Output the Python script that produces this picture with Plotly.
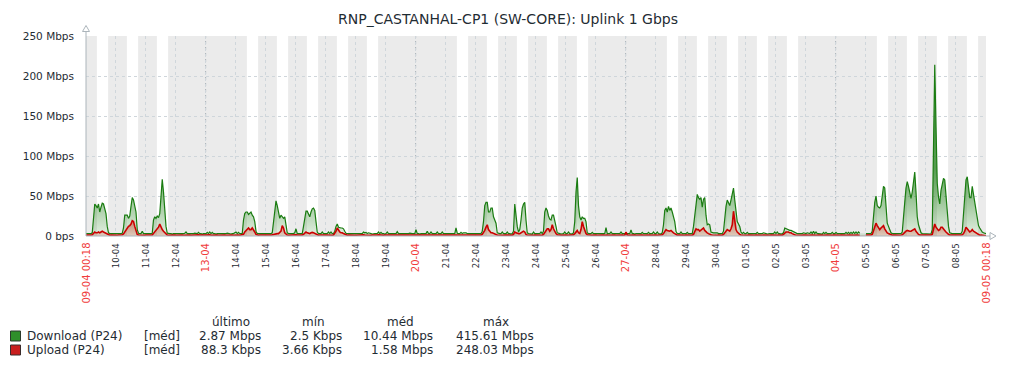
import plotly.graph_objects as go
import pandas as pd

TITLE = "RNP_CASTANHAL-CP1 (SW-CORE): Uplink 1 Gbps"
START = "2025-04-09 00:18"
END = "2025-05-09 00:18"
WORK_START_HOUR = 9
WORK_END_HOUR = 18

# Hourly values (Mbps), one row per day starting 09-04, hour h = day 00:18 + h hours
download_mbps_by_day = [
    [3,3,2.5,3,3,4,22,40,38,35,40,30,36,41,40,32,28,12,4,3,3,3,2.5,3],
    [3,3,2.5,3,3,3.5,10,26,26,26,22,25,37,48,45,38,30,8,3.5,3,3,6,3,3],
    [3,3,3,2.5,3,3.5,20,24,22,25,23,28,45,71,55,30,12,3.5,3,3,3,2.5,3,3],
    [3,2.5,3,3,2.5,3,3,3.5,5,3,3,2.5,3,3,3,3.5,3,3,4.5,3,3,2.5,3,3],
    [3,4.5,3,5,3,4.5,3,3,2.5,3,3,3,3,2.5,3,3,3,3.5,3,3,2.5,3,3,4],
    [5,3,4.5,3,3,3,20,28,30,30,27,28,30,26,24,18,6,3,3,2.5,3,3,3,3],
    [3,3,2.5,3,3,4,20,32,44,38,30,22,26,24,22,24,16,4,3,3,2.5,3,3,4],
    [9,3,3,2.5,3,3,12,25,31,31,26,24,30,34,35,32,18,5,3,3,3,5,3,3],
    [3,3,5,3,5,3,3,6,12,15,11,10,10,10,9,6,3.5,3,3,2.5,3,3,3,3],
    [3,3,2.5,3,3,3,5,4,4.5,3,4,3,3,2.5,3,3,3,3,5,3,4.5,3,3,2.5],
    [3,5,3,3,2.5,3,3,3,3,5.5,3,3,3,2.5,3,3,3,3,3,3.5,3,3,3,3],
    [8,3,3,2.5,3,3,3,3,3,6,3,3,5,3,3,2.5,3,5,3,3,3,5,3,3],
    [3,3,3,3,2.5,3,3,3,10,3.5,3,3,4.5,3,4,4,4,3,3,3,2.5,3,3,3],
    [3,3,2.5,3,3,6,18,38,42,42,30,30,35,35,24,20,16,4,3,3,3,5,3,3],
    [3,5,3,3,2.5,3,6,40,20,12,5,8,20,35,40,42,20,4,3,3,3,2.5,5,3],
    [3,3,3,3,5,3,6,30,35,32,25,21,20,26,26,20,12,4,3,3,2.5,3,3,5],
    [3,3,5,3,3,2.5,4,18,55,73,38,24,20,24,22,22,18,4,3,3,3,4.5,3,3],
    [3,3,3,2.5,3,3,3,3,10.5,3,3,3,5,3,3,3,2.5,3,3,3,5,3,3,3],
    [3,3,3,3,7.5,3,3,2.5,3,3,3,3,3,4.5,3,3,3,3,4.5,3,3,3,5,3],
    [3,5,3,3,2.5,4,14,32,35,30,37,32,35,30,24,18,6,3,3,3,5,3,3,3],
    [3,4.5,3,3,3,3,12,28,42,52,48,46,48,36,46,48,26,14,15,14,5,4,4,4],
    [4,4,3,3,2.5,3,6,26,37,45,42,38,45,53,60,45,26,18,15,12,5,3,4.5,3],
    [3,4.5,3,3,3,2.5,3,3,3,4.5,3,3,3,3,4,3,3,2.5,3,3,3,3,3,5],
    [3,5,3,3,2.5,3,4,10,9,8,8,7,7,6,5,4,3,3,3,3,2.5,3,4,3],
    [3,4,3,3,5,3,6,3,5,3,3,3,3,2.5,4.5,3,4.5,3,3,3,3,4.5,3,3],
    [4.5,3,3,3,2.5,3,3,3,4.5,3,4.5,3,4.5,3,5,3,5,3,5,3.5,None,None,None,None],
    [3,3,2.5,3,3,6,25,42,50,38,36,35,38,48,62,60,37,16,12,8,4,3,3,3],
    [3,3,3,2.5,3,5,20,42,60,68,62,52,47,55,68,80,55,24,14,8,4,3,3,3],
    [3,3,3,3,2.5,8,90,214,137,66,49,40,57,66,72,70,49,28,12,4,3,3,3,3],
    [3,3,2.5,3,3,6,32,50,70,74,60,48,48,62,52,42,32,20,13,10,7,5,4,3],
]
download_last = 2.87

upload_mbps_by_day = [
    [1.2,1,1.2,1,1.2,1.5,3,5,4,4,5,4,5,6,5,4,3,2,1.2,1,1.2,1,1.2,1],
    [1.2,1,1.2,1,1.2,1.5,2.5,5,8,10,12,13,15,19,18,12,6,2,1.2,1,1.2,1.5,1.2,1],
    [1.2,1,1.2,1,1.2,1.2,3,5,7,8,11,15,11,8,6,4,2,1.2,1,1.2,1,1.2,1,1.2],
    [1,1.2,1,1.2,1,1.2,1,1.2,1.5,1.2,1,1.2,1,1.2,1,1.2,1,1.2,1.5,1.2,1,1.2,1,1.2],
    [1.2,1.5,1,1.5,1,1.2,1,1.2,1,1.2,1,1.2,1,1.2,1,1.2,1,1.2,1,1.2,1,1.2,1,1.2],
    [1.2,1,1.2,1,1.2,1,2,5,7,9,10,8,8,10,8,5,2,1.2,1,1.2,1,1.2,1,1.2],
    [1.2,1,1.2,1,1.2,1.5,2,2.5,3,3,3,4,6,13,10,4,2,1.2,1,1.2,1,1.2,1,1.2],
    [1.5,1.2,1,1.2,1,1.2,2,4,5,4,3,3,4,4.5,4,3,2,1.2,1,1.2,1,1.2,1,1.2],
    [1.2,1,1.2,1,1.2,1,1.2,3,6,10,7,5,4,4,3,2,1.2,1,1.2,1,1.2,1,1.2,1],
    [1,1.2,1,1.2,1,1.2,1.5,1.2,1,1.2,1,1.2,1,1.2,1,1.2,1,1.2,1.5,1.2,1,1.2,1,1.2],
    [1.2,1,1.2,1,1.2,1,1.2,1,1.2,1.5,1.2,1,1.2,1,1.2,1,1.2,1,1.2,1,1.2,1,1.2,1],
    [1.5,1.2,1,1.2,1,1.2,1,1.2,1,1.2,1,1.2,1,1.2,1,1.2,1,1.2,1,1.2,1,1.2,1,1.2],
    [1.2,1,1.2,1,1.2,1,1.2,1,1.5,1.2,1,1.2,1,1.2,1,1.2,1,1.2,1,1.2,1,1.2,1,1.2],
    [1.2,1,1.2,1,1.2,2,4,7,11,14,8,5,4,4,3,3,2,1.2,1,1.2,1,1.2,1,1.2],
    [1.2,1,1.2,1,1.2,1,2,5,4,3,3,3,4,5,6,5,2,1.2,1,1.2,1,1.2,1,1.2],
    [1.2,1,1.2,1,1.2,1,2,4,6,9,9,6,8,14,9,5,3,1.5,1,1.2,1,1.2,1,1.2],
    [1.2,1,1.2,1,1.2,1,1.5,3,6,7,4,3,8,18,12,6,3,1.5,1,1.2,1,1.2,1,1.2],
    [1.2,1,1.2,1,1.2,1,1.2,1,1.5,1.2,1,1.2,1,1.2,1,1.2,1,1.2,1,1.2,1,1.2,1,1.2],
    [5,1.2,1,1.2,1,1.2,1,1.2,1,1.2,1,1.2,1,1.2,1,1.2,1,1.2,1,1.2,1,1.2,1,1.2],
    [1.2,1,1.2,1,1.2,1.5,3,6,8,7,6,6,7,5,4,3,1.5,1,1.2,1,1.2,1,1.2,1],
    [1.2,1,1.2,1,1.2,1,2,5,9,8,8,6,7,8,10,7,5,4,3,2,1.5,1.2,1,1.2],
    [1.2,1,1.2,1,1.2,1,2,4,6,8,7,6,9,14,31,18,8,5,3,2,1.2,1,1.2,1],
    [1.2,1,1.2,1,1.2,1,1.2,1,1.2,1,1.2,1,1.2,1,1.2,1,1.2,1,1.2,1,1.2,1,1.2,1],
    [1.2,1,1.2,1,1.2,1,2,4,5,5,5,4,4,3,2,1.5,1.2,1,1.2,1,1.2,1,1.2,1],
    [1.2,1,1.2,1,1.2,1,1.2,1,1.2,1,1.2,1,1.2,1,1.2,1,1.2,1,1.2,1,1.2,1,1.2,1],
    [1.2,1,1.2,1,1.2,1,1.2,1,1.2,1,1.2,1,1.2,1,1.2,1,1.2,1,1.2,1,None,None,None,None],
    [1.2,1,1.2,1,1.2,2,7,12,16,13,10,8,10,12,13,9,6,4,3,2,1.2,1,1.2,1],
    [1.2,1,1.2,1,1.2,1.5,3,5,6,7,6,6,6,7,9,9,6,3,2,1.2,1,1.2,1,1.2],
    [1.2,1,1.2,1,1.2,2,8,15,11,8,7,8,11,11,8,7,5,3,2,1.2,1,1.2,1,1.2],
    [1.2,1,1.2,1,1.2,1.5,3,6,11,9,7,5,6,8,6,5,3,2,1.2,1,1.2,1,1.2,1],
]
upload_last = 0.0883

y_tick_values = [0, 50, 100, 150, 200, 250]
y_tick_labels = ["0 bps", "50 Mbps", "100 Mbps", "150 Mbps", "200 Mbps", "250 Mbps"]

series_names = ["Download (P24)", "Upload (P24)"]
series_func = ["[méd]", "[méd]"]
legend_headers = ["último", "mín", "méd", "máx"]
download_stats = ["2.87 Mbps", "2.5 Kbps", "10.44 Mbps", "415.61 Mbps"]
upload_stats = ["88.3 Kbps", "3.66 Kbps", "1.58 Mbps", "248.03 Mbps"]

# ---------------- styles ----------------
PAGE_W, PAGE_H = 1016, 368
BODY_MARGIN = 8               # browser default body margin
W, H = PAGE_W - BODY_MARGIN, PAGE_H - BODY_MARGIN
L, R, T, B = 86, 986, 36, 236  # plot area in page pixels
TEXT = "#1f2c33"
RED_TXT = "#f03c3c"
GRID = "#cfd6db"
GRID_DARK = "#a9b1b6"
AXIS = "#acb5bb"
BAND = "#ebebeb"
GREEN = "#1a7c11"
REDL = "#cc0000"
FONT = "DejaVu Sans"


def px(xp):
    return (xp - L) / (R - L)


def py(yp):
    return (B - yp) / (B - T)


start = pd.Timestamp(START)
end = pd.Timestamp(END)
times = pd.date_range(start, periods=len(download_mbps_by_day) * 24 + 1, freq="h")
dl = [v for row in download_mbps_by_day for v in row] + [download_last]
ul = [v for row in upload_mbps_by_day for v in row] + [upload_last]

fig = go.Figure()
fig.add_trace(go.Scatter(
    x=times, y=dl, mode="lines", line=dict(color=GREEN, width=1.2),
    fill="tozeroy", connectgaps=False,
    fillgradient=dict(type="vertical", start=0, stop=85,
                      colorscale=[[0, "rgba(26,124,17,0.12)"], [1, "rgba(26,124,17,0.72)"]]),
    hoverinfo="skip", showlegend=False))
fig.add_trace(go.Scatter(
    x=times, y=ul, mode="lines", line=dict(color=REDL, width=1.6),
    fill="tozeroy", connectgaps=False,
    fillgradient=dict(type="vertical", start=0, stop=25,
                      colorscale=[[0, "rgba(204,40,20,0.18)"], [1, "rgba(204,40,20,0.55)"]]),
    hoverinfo="skip", showlegend=False))

shapes = []
# non-working periods
bands = []
day = start.normalize()
while day < end:
    if day.weekday() < 5:
        segs = [(day, day + pd.Timedelta(hours=WORK_START_HOUR)),
                (day + pd.Timedelta(hours=WORK_END_HOUR), day + pd.Timedelta(days=1))]
    else:
        segs = [(day, day + pd.Timedelta(days=1))]
    for a, b in segs:
        a = max(a, start)
        b = min(b, end)
        if a < b:
            if bands and bands[-1][1] == a:
                bands[-1] = (bands[-1][0], b)
            else:
                bands.append((a, b))
    day += pd.Timedelta(days=1)
for a, b in bands:
    shapes.append(dict(type="rect", xref="x", yref="paper", x0=a, x1=b, y0=0, y1=1,
                       fillcolor=BAND, line=dict(width=0), layer="below"))

midnights = pd.date_range(start.normalize() + pd.Timedelta(days=1), end, freq="D")
for d in midnights:
    if d.weekday() == 6:
        shapes.append(dict(type="line", xref="x", yref="paper", x0=d, x1=d, y0=0, y1=1,
                           line=dict(color=GRID_DARK, width=1, dash="3px,3px"), layer="between"))

# axes lines and arrows
shapes.append(dict(type="line", xref="paper", yref="paper", x0=0, x1=0, y0=0, y1=py(31),
                   line=dict(color=AXIS, width=1), layer="above"))
shapes.append(dict(type="line", xref="paper", yref="paper", x0=0, x1=px(990), y0=0, y1=0,
                   line=dict(color=AXIS, width=1), layer="above"))
shapes.append(dict(type="path", xref="paper", yref="paper",
                   path=f"M {px(82.5)},{py(31.5)} L {px(86)},{py(25.5)} L {px(89.5)},{py(31.5)} Z",
                   fillcolor="white", line=dict(color=AXIS, width=1), layer="above"))
shapes.append(dict(type="path", xref="paper", yref="paper",
                   path=f"M {px(990)},{py(232.5)} L {px(996)},{py(236)} L {px(990)},{py(239.5)} Z",
                   fillcolor="white", line=dict(color=AXIS, width=1), layer="above"))

# legend squares
legend_colors = [("#2f8f2a", "#2b3a2b"), ("#c81e1e", "#3a2b2b")]
row_y = [336, 350]
for (fc, lc), yy in zip(legend_colors, row_y):
    shapes.append(dict(type="rect", xref="paper", yref="paper",
                       x0=px(10.5), x1=px(20.5), y0=py(yy - 5), y1=py(yy + 5),
                       fillcolor=fc, line=dict(color=lc, width=1), layer="above"))

annotations = []
annotations.append(dict(text=TITLE, xref="paper", yref="paper", x=px(508), y=py(19),
                        xanchor="center", yanchor="middle", showarrow=False,
                        font=dict(family=FONT, size=14, color=TEXT)))

# x labels
xlabels = [(start, start.strftime("%d-%m %H:%M"), True)]
for d in midnights:
    if d < end - pd.Timedelta(hours=12):
        xlabels.append((d, d.strftime("%d-%m"), d.weekday() == 6))
xlabels.append((end, end.strftime("%d-%m %H:%M"), True))
for d, txt, red in xlabels:
    annotations.append(dict(text=txt, x=d, xref="x", y=0, yref="paper", yanchor="top",
                            xanchor="center", yshift=-5, textangle=-90, showarrow=False,
                            font=dict(family=FONT, size=10 if red else 8.5,
                                      color=RED_TXT if red else TEXT)))

# legend text
LEG = dict(family=FONT, size=12, color=TEXT)
header_x = [231, 313, 400, 496]
for hx, h in zip(header_x, legend_headers):
    annotations.append(dict(text=h, xref="paper", yref="paper", x=px(hx), y=py(322),
                            xanchor="center", yanchor="middle", showarrow=False, font=LEG))
stat_right = [263, 344, 435, 536]
for yy, name, fn, stats in zip(row_y, series_names, series_func, [download_stats, upload_stats]):
    annotations.append(dict(text=name, xref="paper", yref="paper", x=px(25), y=py(yy),
                            xanchor="left", yanchor="middle", showarrow=False, font=LEG))
    annotations.append(dict(text=fn, xref="paper", yref="paper", x=px(142), y=py(yy),
                            xanchor="left", yanchor="middle", showarrow=False, font=LEG))
    for sx, s in zip(stat_right, stats):
        annotations.append(dict(text=s, xref="paper", yref="paper", x=px(sx), y=py(yy),
                                xanchor="right", yanchor="middle", showarrow=False, font=LEG))

fig.update_layout(
    width=W, height=H,
    margin=dict(l=L - BODY_MARGIN, r=PAGE_W - R, t=T - BODY_MARGIN, b=PAGE_H - B, pad=0),
    paper_bgcolor="white", plot_bgcolor="white",
    showlegend=False,
    shapes=shapes, annotations=annotations,
    xaxis=dict(range=[start, end], type="date", tickmode="array", tickvals=list(midnights),
               showticklabels=False, showgrid=True, gridcolor=GRID, griddash="3px,3px",
               gridwidth=1, zeroline=False, showline=False, ticks="", fixedrange=True),
    yaxis=dict(range=[0, 250], tickmode="array", tickvals=y_tick_values, ticktext=y_tick_labels,
               showgrid=True, gridcolor=GRID, griddash="3px,3px", gridwidth=1,
               zeroline=False, showline=False, ticks="", ticklabelstandoff=11,
               tickfont=dict(family=FONT, size=10.5, color=TEXT), fixedrange=True),
)

fig.write_html("out.html")
